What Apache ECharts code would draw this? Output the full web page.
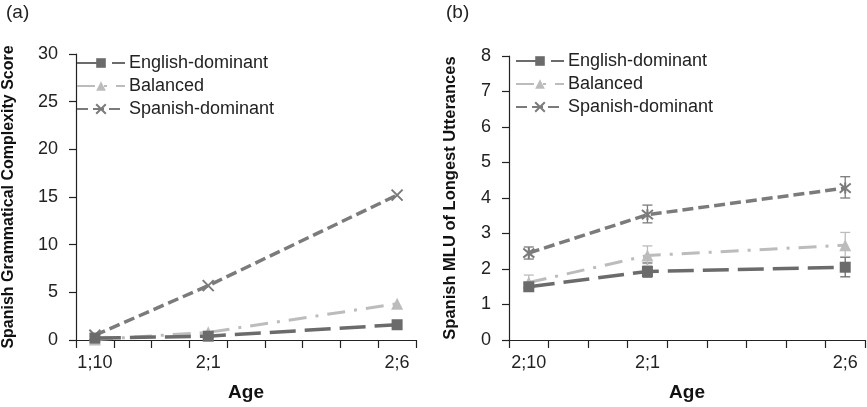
<!DOCTYPE html>
<html>
<head>
<meta charset="utf-8">
<script src="https://cdn.jsdelivr.net/npm/echarts@6/dist/echarts.min.js"></script>
<style>
html,body{margin:0;padding:0;background:#fff;}
#chart{width:867px;height:407px;}
</style>
</head>
<body>
<div id="chart"></div>
<script>
// ---- data ----
const seriesNames = ['English-dominant', 'Balanced', 'Spanish-dominant'];
// month slots on the age axis (one category per month, ticks between)
const monthSlots = ['22', '23', '24', '25', '26', '27', '28', '29', '30'];
const pointMonths = ['22', '25', '30'];
const ageLabelsA = ['1;10', '2;1', '2;6'];
const ageLabelsB = ['2;10', '2;1', '2;6'];

// (a) Spanish grammatical complexity score
const gcEnglish = [0.2, 0.4, 1.6];
const gcBalanced = [0.05, 0.8, 3.8];
const gcSpanish = [0.5, 5.7, 15.2];

// (b) Spanish MLU of longest utterances
const mluEnglish = [1.5, 1.93, 2.05];
const mluBalanced = [1.62, 2.38, 2.67];
const mluSpanish = [2.45, 3.53, 4.28];
const mluEnglishLow = [1.4, 1.77, 1.78];
const mluEnglishHigh = [1.6, 2.17, 2.33];
const mluBalancedLow = [1.45, 2.1, 2.35];
const mluBalancedHigh = [1.83, 2.65, 3.03];
const mluSpanishLow = [2.28, 3.3, 4.0];
const mluSpanishHigh = [2.62, 3.8, 4.6];

const yTicksA = { min: 0, max: 30, interval: 5 };
const yTicksB = { min: 0, max: 8, interval: 1 };

// ---- styles ----
const FONT = "'Liberation Sans', Arial, sans-serif";
const styles = [
  { color: '#6b6b6b', dash: [26, 9], width: 3.5, symbol: 'rect', size: 11 },
  { color: '#bcbcbc', dash: [18, 9, 3, 9], width: 3, symbol: 'triangle', size: 12 },
  { color: '#7b7b7b', dash: [11, 5], width: 3.5, symbol: 'path://M0,0L10,10M10,0L0,10', size: 11 }
];
const symB = 'path://M0,0L10,10M10,0L0,10M5,-1L5,11';

function pairs(vals) { return vals.map((v, i) => [pointMonths[i], v]); }
function labelMap(labels) {
  return function (val) { const k = pointMonths.indexOf(val); return k >= 0 ? labels[k] : ''; };
}

function xAxis(gi, labels) {
  return {
    type: 'category', gridIndex: gi, data: monthSlots, boundaryGap: true,
    axisLine: { lineStyle: { color: '#222', width: 1.2 } },
    axisTick: { show: true, length: 8, interval: 0, lineStyle: { color: '#222', width: 1.2 } },
    axisLabel: { interval: 0, formatter: labelMap(labels), color: '#222', fontSize: 18, fontFamily: FONT, margin: 14 },
    name: 'Age', nameLocation: 'middle', nameGap: 43,
    nameTextStyle: { fontSize: 19, fontWeight: 'bold', color: '#111', fontFamily: FONT },
    splitLine: { show: false }
  };
}
function yAxis(gi, t, name, gap, fs) {
  return {
    type: 'value', gridIndex: gi, min: t.min, max: t.max, interval: t.interval,
    axisLine: { show: true, lineStyle: { color: '#222', width: 1.2 } },
    axisTick: { show: true, length: 7, lineStyle: { color: '#222', width: 1.2 } },
    axisLabel: { color: '#222', fontSize: 18, fontFamily: FONT, margin: 18 },
    splitLine: { show: false },
    name: name, nameLocation: 'middle', nameGap: gap, nameRotate: 90,
    nameTextStyle: { fontSize: fs, fontWeight: 'bold', color: '#111', fontFamily: FONT }
  };
}
function lineSeries(name, vals, i, gi, sym) {
  const s = styles[i];
  return {
    type: 'line', name: name, xAxisIndex: gi, yAxisIndex: gi, data: pairs(vals),
    symbol: sym || s.symbol, symbolSize: s.size, showSymbol: true,
    lineStyle: { color: s.color, width: s.width, type: s.dash },
    itemStyle: { color: s.color, borderColor: s.color, borderWidth: s.symbol.startsWith('path') ? 2 : 0 },
    z: 3 - i + 2, animation: false
  };
}
function errSeries(low, high, i, gi) {
  const color = styles[i].color;
  return {
    type: 'custom', xAxisIndex: gi, yAxisIndex: gi, silent: true, animation: false,
    data: low.map((l, k) => [k, l, high[k]]),
    renderItem: function (params, api) {
      const k = api.value(0);
      const xi = monthSlots.indexOf(pointMonths[k]);
      const p1 = api.coord([xi, api.value(1)]);
      const p2 = api.coord([xi, api.value(2)]);
      const w = 5;
      const st = { stroke: color, lineWidth: 1.3 };
      return { type: 'group', children: [
        { type: 'line', shape: { x1: p1[0], y1: p1[1], x2: p2[0], y2: p2[1] }, style: st },
        { type: 'line', shape: { x1: p1[0] - w, y1: p1[1], x2: p1[0] + w, y2: p1[1] }, style: st },
        { type: 'line', shape: { x1: p2[0] - w, y1: p2[1], x2: p2[0] + w, y2: p2[1] }, style: st }
      ]};
    },
    z: 1
  };
}
function legend(left, top) {
  return {
    left: left, top: top, orient: 'vertical', data: seriesNames,
    itemWidth: 48, itemHeight: 12, itemGap: 5,
    textStyle: { fontSize: 18, color: '#222', fontFamily: FONT, padding: [0, 0, 0, -1] },
    padding: 0
  };
}

const chart = echarts.init(document.getElementById('chart'), null, { renderer: 'canvas' });
chart.setOption({
  backgroundColor: '#fff',
  animation: false,
  title: [
    { text: '(a)', left: 6, top: 3, padding: 0, textStyle: { fontSize: 19, fontWeight: 'normal', color: '#222', fontFamily: FONT } },
    { text: '(b)', left: 446, top: 3, padding: 0, textStyle: { fontSize: 19, fontWeight: 'normal', color: '#222', fontFamily: FONT } }
  ],
  legend: [legend(76, 54), legend(515, 52)],
  grid: [
    { left: 69, top: 54, width: 347, height: 288 },
    { left: 509, top: 56, width: 356, height: 286 }
  ],
  xAxis: [xAxis(0, ageLabelsA), xAxis(1, ageLabelsB)],
  yAxis: [
    yAxis(0, yTicksA, 'Spanish Grammatical Complexity Score', 59, 16),
    yAxis(1, yTicksB, 'Spanish MLU of Longest Utterances', 50, 16.5)
  ],
  series: [
    lineSeries(seriesNames[0], gcEnglish, 0, 0),
    lineSeries(seriesNames[1], gcBalanced, 1, 0),
    lineSeries(seriesNames[2], gcSpanish, 2, 0),
    errSeries(mluEnglishLow, mluEnglishHigh, 0, 1),
    errSeries(mluBalancedLow, mluBalancedHigh, 1, 1),
    errSeries(mluSpanishLow, mluSpanishHigh, 2, 1),
    lineSeries(seriesNames[0], mluEnglish, 0, 1),
    lineSeries(seriesNames[1], mluBalanced, 1, 1),
    lineSeries(seriesNames[2], mluSpanish, 2, 1, symB)
  ]
});
</script>
</body>
</html>
